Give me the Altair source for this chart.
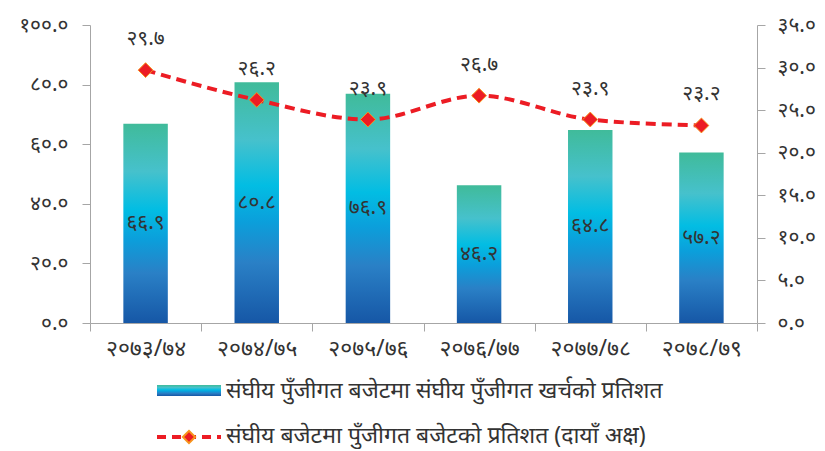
import altair as alt
import pandas as pd

# ---- data ----
years = ["२०७३/७४", "२०७४/७५", "२०७५/७६", "२०७६/७७", "२०७७/७८", "२०७८/७९"]
capital_spend_pct = [66.9, 80.8, 76.9, 46.2, 64.8, 57.2]      # left axis (bars)
capital_budget_pct = [29.7, 26.2, 23.9, 26.7, 23.9, 23.2]     # right axis (line)
legend_bar = "संघीय पुँजीगत बजेटमा संघीय पुँजीगत खर्चको प्रतिशत"
legend_line = "संघीय बजेटमा पुँजीगत बजेटको प्रतिशत (दायाँ अक्ष)"

DEV = "०१२३४५६७८९"


def to_dev(s):
    return "".join(DEV[int(c)] if c.isdigit() else c for c in s)


df = pd.DataFrame({
    "year": years,
    "spend": capital_spend_pct,
    "budget": capital_budget_pct,
})
df["spend_lbl"] = [to_dev(f"{v:.1f}") for v in df["spend"]]
df["budget_lbl"] = [to_dev(f"{v:.1f}") for v in df["budget"]]
df["spend_mid"] = df["spend"] / 2

# label expression turning ascii digits into Devanagari digits
expr = "format(datum.value, '.1f')"
for i, d in enumerate(DEV):
    expr = f"replace({expr}, regexp('{i}', 'g'), '{d}')"

FONT = "Noto Sans"
TXT = "#333333"
AXC = "#a6a6a6"
RED = "#ec1c24"

grad = alt.Gradient(
    gradient="linear",
    x1=0, x2=0, y1=1, y2=0,
    stops=[
        alt.GradientStop(color="#1657a6", offset=0),
        alt.GradientStop(color="#2a80c6", offset=0.25),
        alt.GradientStop(color="#0b9fdb", offset=0.42),
        alt.GradientStop(color="#02bde3", offset=0.57),
        alt.GradientStop(color="#46c1cc", offset=0.76),
        alt.GradientStop(color="#40bb9a", offset=1),
    ],
)

x_enc = alt.X(
    "year:N", sort=years, title=None,
    scale=alt.Scale(paddingInner=0, paddingOuter=0),
    axis=alt.Axis(
        labelAngle=0, tickBand="extent", tickSize=8, tickColor=AXC,
        domainColor=AXC, labelFontSize=23, labelColor=TXT, labelFont=FONT,
        labelPadding=6, grid=False,
    ),
)

y_left = alt.Y(
    "spend:Q", title=None,
    scale=alt.Scale(domain=[0, 100]),
    axis=alt.Axis(
        values=[0, 20, 40, 60, 80, 100], labelExpr=expr, tickSize=8,
        tickColor=AXC, domainColor=AXC, labelFontSize=21, labelColor=TXT,
        labelFont=FONT, labelPadding=14, grid=False,
    ),
)

base = alt.Chart(df)

bars = base.mark_bar(fill=grad, width=alt.RelativeBandSize(0.4)).encode(
    x=x_enc, y=y_left
)
bar_text = base.mark_text(fontSize=21, color=TXT, font=FONT).encode(
    x=alt.X("year:N", sort=years),
    y=alt.Y("spend_mid:Q", scale=alt.Scale(domain=[0, 100])),
    text="spend_lbl:N",
)
left_layer = alt.layer(bars, bar_text)

y_right_scale = alt.Scale(domain=[0, 35])
y_right = alt.Y(
    "budget:Q", title=None, scale=y_right_scale,
    axis=alt.Axis(
        orient="right", values=[0, 5, 10, 15, 20, 25, 30, 35], labelExpr=expr,
        tickSize=8, tickColor=AXC, domainColor=AXC, labelFontSize=21,
        labelColor=TXT, labelFont=FONT, labelPadding=12, grid=False,
    ),
)

line = base.mark_line(
    color=RED, strokeWidth=4, strokeDash=[10, 6], interpolate="monotone"
).encode(x=alt.X("year:N", sort=years), y=y_right)
points = base.mark_point(
    shape="diamond", filled=True, fill=RED, stroke="#f7941d",
    strokeWidth=1, size=220, opacity=1,
).encode(x=alt.X("year:N", sort=years), y=alt.Y("budget:Q", scale=y_right_scale))
line_text = base.mark_text(fontSize=21, color=TXT, font=FONT, dy=-31).encode(
    x=alt.X("year:N", sort=years),
    y=alt.Y("budget:Q", scale=y_right_scale),
    text="budget_lbl:N",
)
right_layer = alt.layer(line, points, line_text)

# ---- custom legend below the plot ----
leg = alt.Chart(pd.DataFrame({"a": [1]}))
leg_rect = leg.mark_rect(fill=grad).encode(
    x=alt.value(67), x2=alt.value(131), y=alt.value(360), y2=alt.value(371)
)
leg_rule = leg.mark_rule(color=RED, strokeWidth=4, strokeDash=[9, 6]).encode(
    x=alt.value(67), x2=alt.value(131), y=alt.value(412)
)
leg_pt = leg.mark_point(
    shape="diamond", filled=True, fill=RED, stroke="#f7941d", size=150, opacity=1
).encode(x=alt.value(99), y=alt.value(412))
leg_t1 = leg.mark_text(align="left", baseline="middle", fontSize=23, color=TXT, font=FONT).encode(
    x=alt.value(136), y=alt.value(366), text=alt.value(legend_bar)
)
leg_t2 = leg.mark_text(align="left", baseline="middle", fontSize=23, color=TXT, font=FONT).encode(
    x=alt.value(136), y=alt.value(411), text=alt.value(legend_line)
)

chart = (
    alt.layer(left_layer, right_layer, leg_rect, leg_rule, leg_pt, leg_t1, leg_t2)
    .resolve_scale(y="independent")
    .properties(
        width=667, height=298,
        autosize=alt.AutoSizeParams(type="none"),
        padding={"left": 82, "top": 17, "right": 60, "bottom": 126},
    )
    .configure_view(stroke=None)
)

chart.save("out.html", embed_options={"renderer": "svg", "actions": False})
